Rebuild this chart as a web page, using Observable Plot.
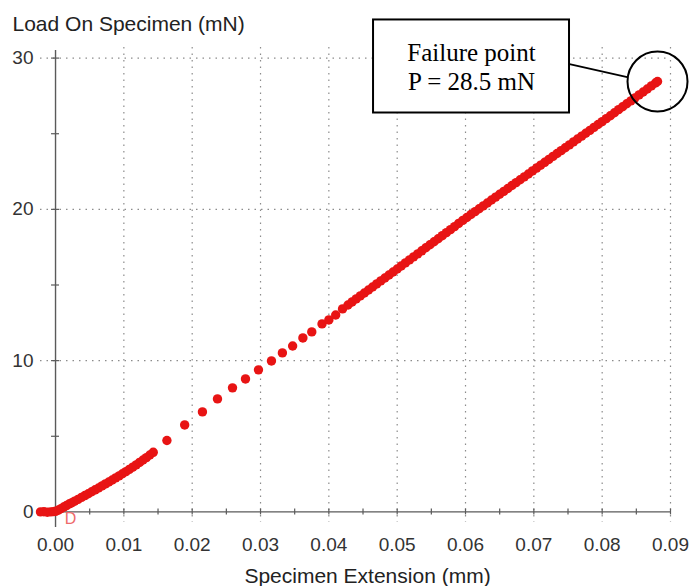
<!DOCTYPE html>
<html>
<head>
<meta charset="utf-8">
<script src="https://cdn.jsdelivr.net/npm/d3@7"></script>
<script src="https://cdn.jsdelivr.net/npm/@observablehq/plot@0.6"></script>
<style>
  body { margin: 0; background: #fff; }
  #chart svg { display: block; }
</style>
</head>
<body>
<div id="chart"></div>
<script>
// ---- Data ----
const extension = [
  -0.0022, -0.0017, -0.0012, -0.0007, -0.0003, 0.0000, 0.0004, 0.0008, 0.0012, 0.0016,
  0.0020, 0.0024, 0.0028, 0.0033, 0.0038, 0.0043, 0.0048, 0.0053, 0.0058, 0.0063,
  0.0068, 0.0073, 0.0078, 0.0083, 0.0088, 0.0093, 0.0098, 0.0103, 0.0108, 0.0113,
  0.0118, 0.0123, 0.0128, 0.0133, 0.0138, 0.0143,
  0.0163, 0.0189, 0.0215, 0.0237, 0.0259, 0.0278, 0.0297, 0.0316, 0.0332, 0.0347,
  0.0362, 0.0375, 0.0390, 0.0400, 0.0410, 0.0420, 0.0428,
  0.0434, 0.0440, 0.0446, 0.0452, 0.0458, 0.0464, 0.0470, 0.0476, 0.0482, 0.0488, 0.0494, 0.0500,
  0.0506, 0.0512, 0.0518, 0.0524, 0.0530, 0.0536, 0.0542, 0.0548, 0.0554, 0.0560,
  0.0566, 0.0572, 0.0578, 0.0584, 0.0590, 0.0596, 0.0602, 0.0608, 0.0614, 0.0620,
  0.0626, 0.0632, 0.0638, 0.0644, 0.0650, 0.0656, 0.0662, 0.0668, 0.0674, 0.0680,
  0.0686, 0.0692, 0.0698, 0.0704, 0.0710, 0.0716, 0.0722, 0.0728, 0.0734, 0.0740,
  0.0746, 0.0752, 0.0758, 0.0764, 0.0770, 0.0776, 0.0782, 0.0788, 0.0794, 0.0800,
  0.0806, 0.0812, 0.0818, 0.0824, 0.0830, 0.0836, 0.0842, 0.0848, 0.0854, 0.0860,
  0.0866, 0.0872, 0.0878, 0.0881
];
const load = [
  0.00, 0.01, -0.02, 0.00, 0.02, 0.04, 0.11, 0.22, 0.32, 0.42,
  0.52, 0.61, 0.71, 0.83, 0.96, 1.08, 1.20, 1.33, 1.46, 1.58,
  1.72, 1.85, 1.98, 2.11, 2.25, 2.38, 2.52, 2.66, 2.81, 2.96,
  3.11, 3.27, 3.43, 3.59, 3.76, 3.94,
  4.72, 5.75, 6.61, 7.47, 8.20, 8.79, 9.39, 9.98, 10.51, 10.97,
  11.50, 11.90, 12.43, 12.69, 13.02, 13.42, 13.68,
  13.88, 14.08, 14.28, 14.47, 14.67, 14.87, 15.07, 15.27, 15.46, 15.66, 15.86, 16.06,
  16.26, 16.46, 16.66, 16.86, 17.06, 17.26, 17.46, 17.66, 17.86, 18.06,
  18.26, 18.46, 18.66, 18.86, 19.07, 19.27, 19.46, 19.66, 19.85, 20.04,
  20.23, 20.42, 20.62, 20.81, 21.00, 21.19, 21.38, 21.58, 21.77, 21.96,
  22.15, 22.34, 22.54, 22.73, 22.92, 23.11, 23.30, 23.50, 23.69, 23.88,
  24.07, 24.26, 24.46, 24.65, 24.84, 25.03, 25.22, 25.42, 25.61, 25.80,
  26.00, 26.19, 26.39, 26.59, 26.78, 26.98, 27.17, 27.37, 27.57, 27.76,
  27.96, 28.16, 28.35, 28.45
];
const xTickValues = [0, 0.01, 0.02, 0.03, 0.04, 0.05, 0.06, 0.07, 0.08, 0.09];
const xMinorTicks = [0.005, 0.01, 0.015, 0.02, 0.025, 0.03, 0.035, 0.04, 0.045, 0.05,
                     0.055, 0.06, 0.065, 0.07, 0.075, 0.08, 0.085, 0.09];
const xGridValues = [0.01, 0.02, 0.03, 0.04, 0.05, 0.06, 0.07, 0.08, 0.09];
const yTickValues = [0, 10, 20, 30];
const yMinorTicks = [5, 10, 15, 20, 25, 30];
const yGridValues = [10, 20, 30];
const yTitle = "Load On Specimen (mN)";
const xTitle = "Specimen Extension (mm)";
const originMark = "D";
const failurePoint = {x: 0.0881, y: 28.45};
const noteText = "Failure point\nP = 28.5 mN";
// annotation box, in data units
const noteBox = {x1: 0.04654, x2: 0.07522, y1: 26.37, y2: 32.52};
const leader = {x1: 0.07522, y1: 29.6, x2: 0.08367, y2: 28.74};

const points = extension.map((x, i) => ({x, y: load[i]}));

const sans = "'Liberation Sans', Arial, Helvetica, sans-serif";
const serif = "'Liberation Serif', 'Times New Roman', serif";
const gridStyle = {stroke: "#8c8c8c", strokeWidth: 1.2, strokeDasharray: "1.5 5"};

const chart = Plot.plot({
  width: 691,
  height: 586,
  marginLeft: 40,
  marginRight: 21,
  marginTop: 47,
  marginBottom: 64,
  style: {fontFamily: sans, fontSize: "19px", color: "#333", background: "#fff", overflow: "visible"},
  x: {domain: [-0.0022, 0.09]},
  y: {domain: [-0.7, 30.7]},
  marks: [
    Plot.ruleX(xGridValues, gridStyle),
    Plot.ruleY(yGridValues, gridStyle),
    Plot.ruleY([0], {stroke: "#5a5a5a", strokeWidth: 1.4}),
    Plot.ruleX([0], {stroke: "#5a5a5a", strokeWidth: 1.4, insetTop: 3, insetBottom: -5}),
    Plot.ruleX(xMinorTicks, {y1: 0, y2: 0, insetTop: -3, insetBottom: -3, stroke: "#5a5a5a", strokeWidth: 1.2}),
    Plot.ruleY(yMinorTicks, {x1: 0, x2: 0, insetLeft: -4, insetRight: -4, stroke: "#5a5a5a", strokeWidth: 1.2}),
    Plot.axisX({ticks: xTickValues, tickFormat: d3.format(".2f"), tickSize: 0, tickPadding: 15, label: null, fontSize: 19, fill: "#333"}),
    Plot.axisY({ticks: yTickValues, tickFormat: d3.format("d"), tickSize: 0, tickPadding: 7, label: null, fontSize: 19, fill: "#333"}),
    Plot.dot(points, {x: "x", y: "y", r: 4.7, fill: "#e81414", stroke: "none"}),
    Plot.text([originMark], {x: () => 0, y: () => 0, text: d => d, dx: 15, dy: 7, fill: "#ee6a6a", fontSize: 16, fontFamily: sans}),
    Plot.link([leader], {x1: "x1", y1: "y1", x2: "x2", y2: "y2", stroke: "black", strokeWidth: 1.8}),
    Plot.rect([noteBox], {x1: "x1", x2: "x2", y1: "y1", y2: "y2", fill: "white", stroke: "black", strokeWidth: 2}),
    Plot.text([noteText], {
      x: () => (noteBox.x1 + noteBox.x2) / 2,
      y: () => (noteBox.y1 + noteBox.y2) / 2,
      text: d => d, fontFamily: serif, fontSize: 25, lineHeight: 1.16, fill: "black"
    }),
    Plot.dot([failurePoint], {x: "x", y: "y", r: 30, stroke: "black", strokeWidth: 2, fill: "none"}),
    Plot.text([yTitle], {frameAnchor: "top-left", text: d => d, textAnchor: "start", lineAnchor: "bottom", dx: -28, dy: -17, fontSize: 21, fill: "#222"}),
    Plot.text([xTitle], {frameAnchor: "bottom", text: d => d, textAnchor: "middle", lineAnchor: "bottom", dx: 12, dy: 60, fontSize: 21, fill: "#222"})
  ]
});
document.getElementById("chart").appendChild(chart);
</script>
</body>
</html>
